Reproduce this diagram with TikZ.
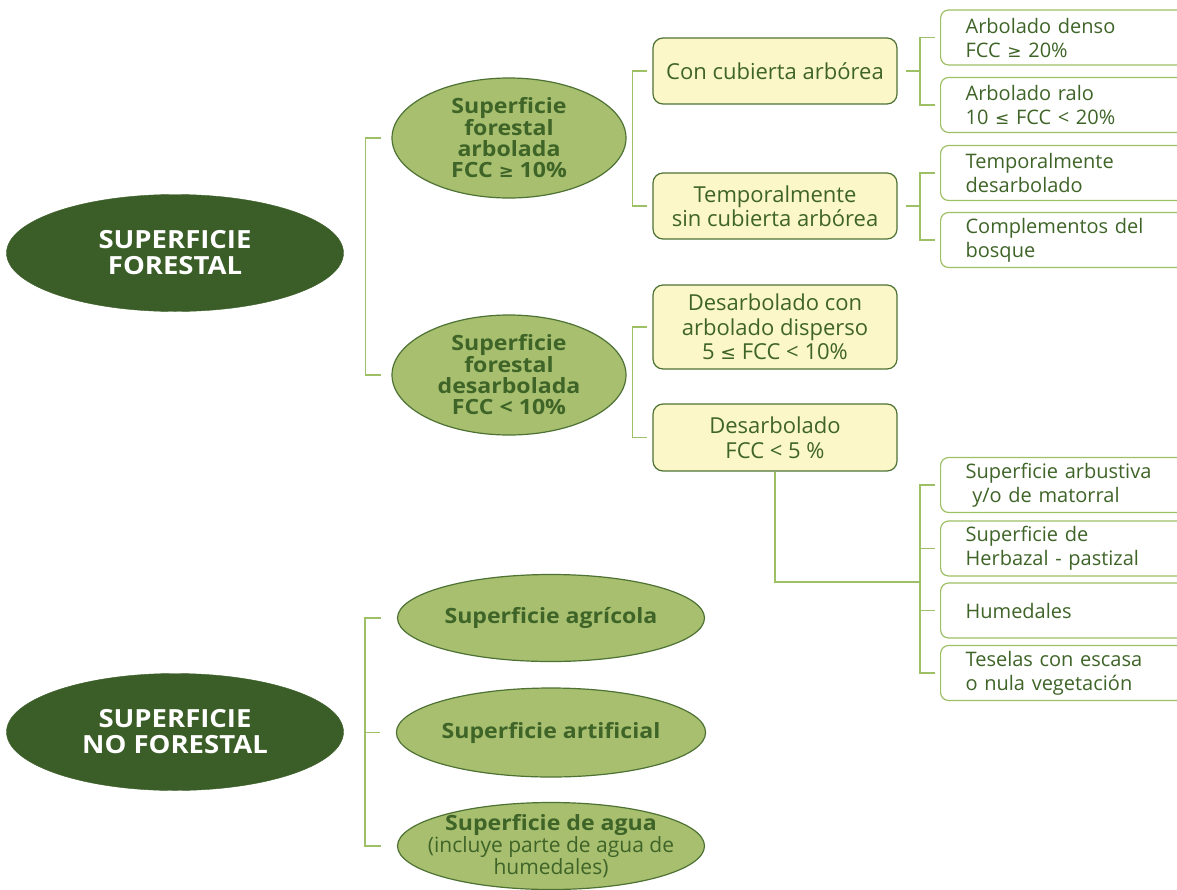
\documentclass[tikz,border=0pt]{standalone}
\usepackage{fontspec}
\setmainfont{Open Sans}[BoldFeatures={FakeStretch=1.1}]
\newfontfamily\symfont{DejaVu Sans}
\usetikzlibrary{positioning,shapes}
\definecolor{bosque}{HTML}{3B5E28}
\definecolor{musgo}{HTML}{A7BF6F}
\definecolor{tinta}{HTML}{3F6428}
\definecolor{crema}{HTML}{FBF7C9}
\definecolor{brote}{HTML}{9DC065}
\definecolor{borde}{HTML}{4E7233}
\newcommand{\mayig}{{\symfont\scalebox{0.85}{≥}}}
\newcommand{\menig}{{\symfont\scalebox{0.85}{≤}}}

\begin{document}
\begin{tikzpicture}[x=1pt,y=-1pt,
    raiz/.style={ellipse,fill=bosque,draw=bosque,text=white,align=center,
        font=\fontsize{25}{26}\selectfont\bfseries,minimum width=337pt,minimum height=117pt,inner sep=0pt},
    tipo/.style={ellipse,fill=musgo,draw=borde,line width=1.2pt,text=tinta,align=center,
        font=\fontsize{21}{21}\selectfont\bfseries,minimum width=234pt,minimum height=120pt,inner sep=0pt},
    uso/.style={tipo,font=\fontsize{21}{22}\selectfont\bfseries,minimum width=307pt,minimum height=87pt},
    clase/.style={rectangle,rounded corners=10pt,fill=crema,draw=borde,line width=1.2pt,text=tinta,align=center,
        font=\fontsize{22}{24.5}\selectfont,minimum width=244pt,minimum height=66pt,inner sep=0pt},
    hoja/.style={rectangle,rounded corners=8pt,fill=white,draw=brote,line width=1.2pt,text=tinta,anchor=west,
        font=\fontsize{20}{24}\selectfont,text width=210pt,align=left,minimum width=260pt,minimum height=55pt,
        inner xsep=25pt,inner ysep=0pt},
    enlace/.style={draw=brote,line width=1.3pt}]
\useasboundingbox (0,0) rectangle (1177,889);

\node[raiz] (forestal) at (175,253) {SUPERFICIE\\FORESTAL};
\node[raiz] (noforestal) at (175,732) {SUPERFICIE\\NO FORESTAL};

\node[tipo] (arbolada) at (509,138) {Superficie\\forestal\\arbolada\\FCC \mayig{} 10\%};
\node[tipo] (desarbolada) at (509,375) {Superficie\\forestal\\desarbolada\\FCC < 10\%};

\node[clase] (concub) at (775,71) {Con cubierta arbórea};
\node[clase] (sincub) at (775,206) {Temporalmente\\sin cubierta arbórea};
\node[clase,minimum height=84pt] (disperso) at (775,327) {Desarbolado con\\arbolado disperso\\5 \menig{} FCC < 10\%};
\node[clase,minimum height=67pt] (raso) at (775,437.5) {Desarbolado\\FCC < 5 \%};

\node[hoja] (denso) at (940,37.5) {Arbolado denso\\FCC \mayig{} 20\%};
\node[hoja] (ralo) at (940,105) {Arbolado ralo\\10 \menig{} FCC < 20\%};
\node[hoja] (temporal) at (940,173) {Temporalmente\\desarbolado};
\node[hoja] (complementos) at (940,240) {Complementos del\\bosque};
\node[hoja] (arbustiva) at (940,485) {Superficie arbustiva\\\ y/o de matorral};
\node[hoja] (herbazal) at (940,548.5) {Superficie de\\Herbazal - pastizal};
\node[hoja] (humedales) at (940,610.5) {Humedales};
\node[hoja] (teselas) at (940,673) {Teselas con escasa\\o nula vegetación};

\node[uso] (agricola) at (551,618) {Superficie agrícola};
\node[uso,minimum height=89pt] (artificial) at (551,732.5) {Superficie artificial};
\node[uso,inner xsep=-60pt,inner ysep=-8pt] (agua) at (551,846) {Superficie de agua\\{\mdseries\fontsize{21}{22}\selectfont (incluye parte de agua de}\\{\mdseries\fontsize{21}{22}\selectfont humedales)}};

\coordinate (union) at (920,582);

\draw[enlace] ([xshift=-10pt]arbolada.west) -- ++(-16,0) |- ([xshift=-10pt]desarbolada.west);
\draw[enlace] ([xshift=-16pt]agricola.west) -- ++(-16,0) |- ([xshift=-16pt]agua.west);
\draw[enlace] ([xshift=-16pt]artificial.west) -- ++(-16,0);

\draw[enlace] ([xshift=-5pt]concub.west) -- ++(-15,0) |- ([xshift=-5pt]sincub.west);
\draw[enlace] ([xshift=-5pt]disperso.west) -- ++(-15,0) |- ([xshift=-5pt]raso.west);

\draw[enlace] ([xshift=8pt]concub.east) -- ++(15,0);
\draw[enlace] ([xshift=-5pt]denso.west) -- ++(-15,0) |- ([xshift=-5pt]ralo.west);
\draw[enlace] ([xshift=8pt]sincub.east) -- ++(15,0);
\draw[enlace] ([xshift=-5pt]temporal.west) -- ++(-15,0) |- ([xshift=-5pt]complementos.west);

\draw[enlace] (raso.south) |- (union);
\draw[enlace] ([xshift=-5pt]arbustiva.west) -- ++(-15,0) |- ([xshift=-5pt]teselas.west);
\draw[enlace] ([xshift=-5pt]herbazal.west) -- ++(-15,0);
\draw[enlace] ([xshift=-5pt]humedales.west) -- ++(-15,0);

\end{tikzpicture}
\end{document}
